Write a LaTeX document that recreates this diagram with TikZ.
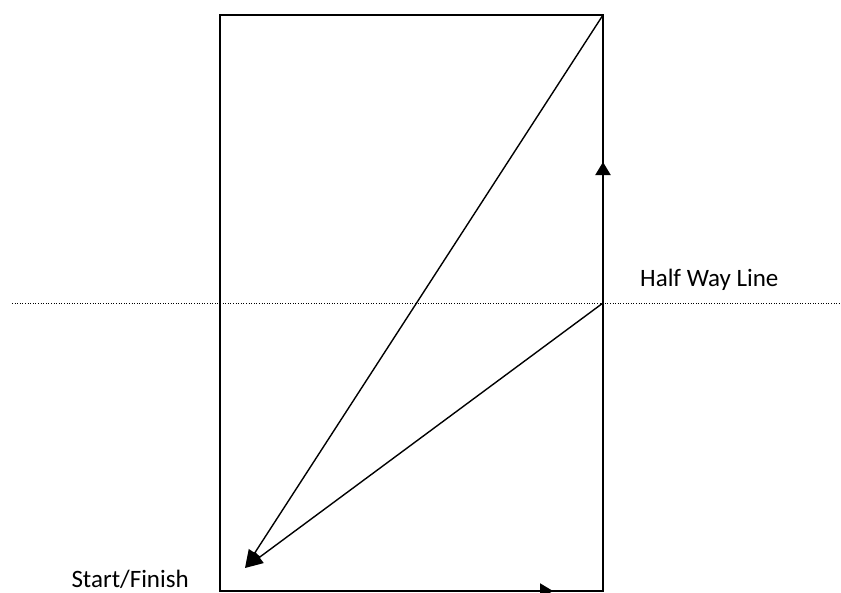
\documentclass[tikz,border=0pt]{standalone}
\usepackage{fontspec}
\setmainfont{Carlito}
\usetikzlibrary{arrows.meta}
\begin{document}
\begin{tikzpicture}[x=1pt,y=-1pt,
  edge/.style={line width=1.4pt},
  thickedge/.style={line width=2pt},
  bigarrow/.style={line width=1.4pt,-{Triangle[length=18pt,width=14pt]}},
  edgearrow/.style={thickedge,-{Triangle[length=13pt,width=15pt]}},
  halfline/.style={line width=1pt,dash pattern=on 1pt off 1.6pt},
  lbl/.style={inner sep=0pt,font=\fontsize{25}{30}\selectfont}]
\useasboundingbox (0,0) rectangle (841,592);
\coordinate (TL) at (220,15);
\coordinate (TR) at (603,15);
\coordinate (BR) at (603,591);
\coordinate (BL) at (220,591);
\coordinate (HR) at (603,303);
\coordinate (SF) at (245,568);
\coordinate (RA) at (603,162);
\coordinate (BA) at (553,591);
\coordinate (DL) at (12,303);
\coordinate (DR) at (845,303);
% half way line
\draw[halfline] (DL) -- (DR);
% pitch
\draw[edge] (BL) -- (TL) -- (TR) -- (BR) -- cycle;
\draw[thickedge] (BR) -- (TR);
\draw[edgearrow] (BR) -- (RA);
\draw[edgearrow] (BL) -- (BA);
% diagonals
\draw[bigarrow] (TR) -- (SF);
\draw[bigarrow] (HR) -- (SF);
% labels
\node[lbl,anchor=base west] (half) at (640,286) {Half Way Line};
\node[lbl,anchor=base east] (start) at (189,587) {Start/Finish};
\end{tikzpicture}
\end{document}
